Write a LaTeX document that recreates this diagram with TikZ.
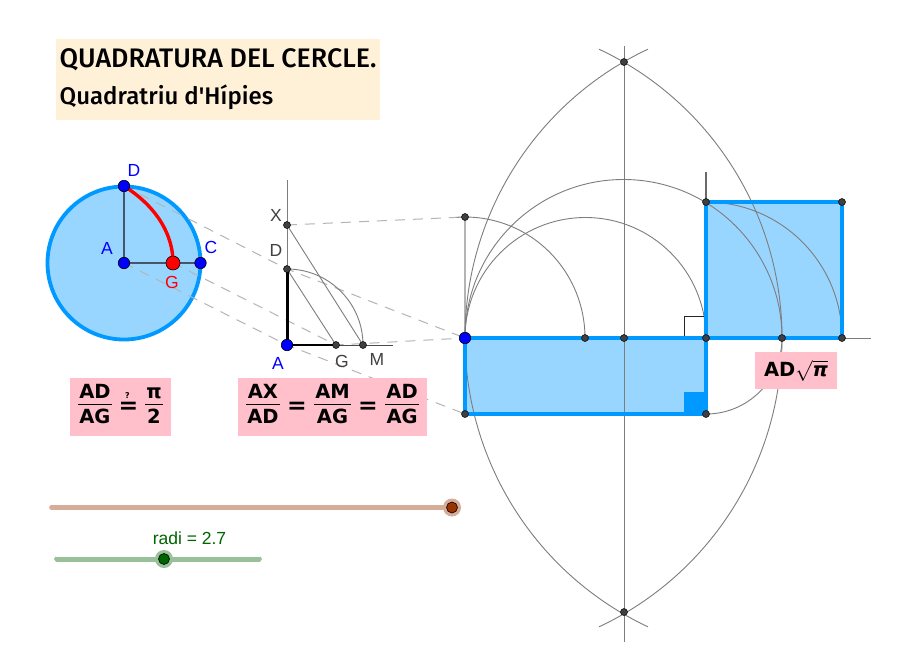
\documentclass[tikz,border=0pt]{standalone}
\usepackage{fontspec}
\usepackage{graphicx}
\usetikzlibrary{arrows.meta}
\setmainfont{Liberation Sans}
\newfontfamily\titlefont{Fira Sans Medium}
\newfontfamily\eqfont{DejaVu Sans Bold}
\newfontfamily\eqpi{DejaVu Sans Bold Oblique}
\definecolor{skyb}{RGB}{0,153,255}
\definecolor{skyf}{RGB}{153,214,255}
\definecolor{pinkb}{RGB}{255,192,203}
\definecolor{cream}{RGB}{255,240,216}
\definecolor{ptdark}{RGB}{64,64,64}
\definecolor{arcgrey}{RGB}{125,125,125}
\definecolor{dashgrey}{RGB}{180,180,180}
\definecolor{darkgreen}{RGB}{0,100,0}
\definecolor{sliderred}{RGB}{153,51,0}
\definecolor{linkblue}{RGB}{70,85,105}
\newcommand\eqfr[2]{\begin{tabular}{@{\hspace{1pt}}c@{\hspace{1pt}}}\rule[-4pt]{0pt}{18.5pt}#1\\[-1.2pt]\hline\rule{0pt}{19.5pt}#2\end{tabular}}
\newcommand\bigeq{\raisebox{-1pt}{\fontsize{23.5}{24}\selectfont =}}
\newcommand\qeq{\rlap{\hspace{6.5pt}\raisebox{14pt}{\fontsize{8}{8}\selectfont ?}}\bigeq}
\tikzset{
 pt/.style={circle,fill=ptdark,draw=black,line width=.5pt,inner sep=0pt,minimum size=7pt},
 bluept/.style={circle,fill=blue,draw=black,line width=.6pt,inner sep=0pt,minimum size=11.5pt},
 redpt/.style={circle,fill=red,draw=black,line width=.6pt,inner sep=0pt,minimum size=14pt},
 lbl/.style={inner sep=0pt,font=\fontsize{17.5}{18}\selectfont},
 thinarc/.style={draw=arcgrey,line width=.9pt},
 thinline/.style={draw=arcgrey,line width=.9pt},
 dashline/.style={draw=dashgrey,line width=1pt,dash pattern=on 10pt off 8pt},
 pinkbox/.style={fill=pinkb,inner sep=0pt,anchor=center,font=\eqfont\fontsize{19.5}{20}\selectfont},
 skystroke/.style={draw=skyb,line width=3.8pt,line join=miter},
 titletext/.style={anchor=base west,inner sep=0pt},
 knob/.style={circle,draw=black,line width=.6pt,inner sep=0pt,minimum size=11pt},
 halo/.style={circle,inner sep=0pt,minimum size=18pt},
 sliderend/.style={{Triangle[length=2pt,width=5.4pt]}-{Triangle[length=2pt,width=5.4pt]}},
}
\begin{document}
\begin{tikzpicture}[x=1pt,y=-1pt]
\useasboundingbox (0,0) rectangle (903,649);
\fill[white] (0,0) rectangle (903,649);
% named coordinates
\coordinate (A1) at (124,263); \coordinate (D1) at (124,186); \coordinate (C1) at (200.5,263); \coordinate (G1) at (173,263);
\coordinate (A2) at (287,345); \coordinate (D2) at (287,269); \coordinate (X2) at (287,225); \coordinate (G2) at (336,345); \coordinate (M2) at (363,345);
\coordinate (AT) at (287,180); \coordinate (AR) at (393,345);
\coordinate (P) at (465,338); \coordinate (PT) at (465,217); \coordinate (PB) at (465,414);
\coordinate (Q) at (585,338); \coordinate (R) at (624,338); \coordinate (S) at (706,338); \coordinate (SB) at (706,414);
\coordinate (U) at (782,338); \coordinate (V) at (842,338); \coordinate (W) at (842,202); \coordinate (Y) at (706,202);
\coordinate (Top) at (624,62); \coordinate (Bot) at (624,612);
\coordinate (VT) at (624,46); \coordinate (VB) at (624,642); \coordinate (ST) at (706,172); \coordinate (HR) at (871,338);
\coordinate (SL1) at (49,507.5); \coordinate (SR1) at (452,507.5);
\coordinate (SL2) at (54,559); \coordinate (SR2) at (262,559); \coordinate (SK2) at (164,559);

% title
\node[fill=cream,minimum width=324pt,minimum height=81pt,anchor=north west,inner sep=0pt] (titlebox) at (56,39) {};
\node[titletext,font=\titlefont\fontsize{26.8}{27}\selectfont] (t1) at (59.5,67) {QUADRATURA DEL CERCLE.};
\node[titletext,font=\titlefont\fontsize{24}{25}\selectfont] (t2) at (59.5,104) {Quadratriu d'Hípies};

% left disc
\draw[fill=skyf,draw=skyb,line width=3.8pt] (A1) circle (76.5);

% fills
\fill[skyf] (P) rectangle (SB);
\fill[skyf] (Y) rectangle (V);
\fill[skyb] (684,392) rectangle (SB);

% dashed guides
\draw[dashline] (D1) -- (D2) -- (P);
\draw[dashline] (G1) -- (G2) -- (P);
\draw[dashline] (A1) -- (A2) -- (PB);
\draw[dashline] (X2) -- (PT);

% disc details
\draw[linkblue,line width=1.3pt] (D1) -- (A1) -- (C1);
\draw[red,line width=3.4pt] plot[domain=1:90,samples=45,smooth] ({124+77*\x/90*cos(\x)/sin(\x)},{263-77*\x/90});

% small construction
\draw[thinline] (AT) -- (A2);
\draw[draw=black!70,line width=.8pt] (A2) -- (AR);
\draw[thinline] (D2) -- (G2);
\draw[thinline] (X2) -- (M2);
\draw[thinarc] (M2) arc[start angle=0,end angle=90,x radius=76,y radius=-76];
\draw[black,line width=3pt] (D2) -- (A2);
\draw[black,line width=2.4pt] (A2) -- (G2);

% right construction
\draw[thinline] (VT) -- (VB);
\draw[thinline] (V) -- (HR);
\draw[draw=dashgrey,line width=2pt] (PT) -- (P);
\draw[thinarc] (Q) arc[start angle=0,end angle=94,x radius=120,y radius=-121];
\draw[thinarc] (P) arc[start angle=180,end angle=0,x radius=158.5,y radius=-158.5];
\draw[thinarc] (P) arc[start angle=180,end angle=0,x radius=120.5,y radius=-120.5];
\draw[thinarc] (V) arc[start angle=0,end angle=82,x radius=136,y radius=-136];
\draw[thinarc] (U) arc[start angle=0,end angle=-90,x radius=76,y radius=-76];
\draw[thinarc] (P) arc[start angle=180,end angle=115,x radius=317,y radius=-318.7];
\draw[thinarc] (P) arc[start angle=180,end angle=245,x radius=317,y radius=-318.7];
\draw[thinarc] (U) arc[start angle=0,end angle=65,x radius=317,y radius=-318.7];
\draw[thinarc] (U) arc[start angle=0,end angle=-65,x radius=317,y radius=-318.7];
\draw[arcgrey!85!black,line width=1.5pt] (ST) -- (Y);
\draw[black!85,line width=.8pt] (684,338) -- (684,316) -- (706,316);

% blue outlines
\draw[skystroke] (P) -- (S) -- (SB) -- (PB) -- cycle;
\draw[skystroke] (Y) -- (W) -- (V) -- (S) -- cycle;

% pink formula boxes
\node[pinkbox,minimum width=101pt,minimum height=58pt] (f1) at (120.5,407) {\eqfr{AD}{AG}\hspace{7pt}\qeq\hspace{7pt}\eqfr{π}{2}};
\node[pinkbox,minimum width=189pt,minimum height=58pt] (f2) at (332.5,407) {\eqfr{AX}{AD}\hspace{7.5pt}\bigeq\hspace{7.5pt}\eqfr{AM}{AG}\hspace{7.5pt}\bigeq\hspace{7.5pt}\eqfr{AD}{AG}};
\node[pinkbox,minimum width=82pt,minimum height=37pt] (f3) at (796,370.5) {AD$\sqrt{\hbox{\eqpi π}}$};

% sliders
\draw[draw=sliderred!40!white,line width=5pt,sliderend] (SL1) -- (SR1);
\draw[draw=darkgreen!40!white,line width=5pt,sliderend] (SL2) -- (SR2);
\node[halo,fill=sliderred!40!white] (h1) at (SR1) {};
\node[knob,fill=sliderred] (k1) at (SR1) {};
\node[halo,fill=darkgreen!40!white] (h2) at (SK2) {};
\node[knob,fill=darkgreen] (k2) at (SK2) {};
\node[inner sep=0pt,text=darkgreen,font=\fontsize{17.5}{18}\selectfont] (radi) at (189.5,538) {radi = 2.7};

% points
\node[bluept] (nA1) at (A1) {};
\node[bluept] (nD1) at (D1) {};
\node[bluept] (nC1) at (C1) {};
\node[redpt] (nG1) at (G1) {};
\node[pt] (nX2) at (X2) {};
\node[pt] (nD2) at (D2) {};
\node[pt] (nG2) at (G2) {};
\node[pt] (nM2) at (M2) {};
\node[bluept] (nA2) at (A2) {};
\node[pt] (nPT) at (PT) {};
\node[pt] (nPB) at (PB) {};
\node[pt] (nQ) at (Q) {};
\node[pt] (nR) at (R) {};
\node[pt] (nS) at (S) {};
\node[pt] (nSB) at (SB) {};
\node[pt] (nU) at (U) {};
\node[pt] (nV) at (V) {};
\node[pt] (nW) at (W) {};
\node[pt] (nY) at (Y) {};
\node[pt] (nTop) at (Top) {};
\node[pt] (nBot) at (Bot) {};
\node[bluept] (nP) at (P) {};

% labels
\node[lbl,text=blue] (lD1) at (134,170) {D};
\node[lbl,text=blue] (lA1) at (107,248) {A};
\node[lbl,text=blue] (lC1) at (211,247) {C};
\node[lbl,text=red] (lG1) at (172,282) {G};
\node[lbl,text=ptdark] (lX2) at (276,215) {X};
\node[lbl,text=ptdark] (lD2) at (276,250) {D};
\node[lbl,text=blue] (lA2) at (278,363) {A};
\node[lbl,text=ptdark] (lG2) at (342,361) {G};
\node[lbl,text=ptdark] (lM2) at (377,359) {M};
\end{tikzpicture}
\end{document}
